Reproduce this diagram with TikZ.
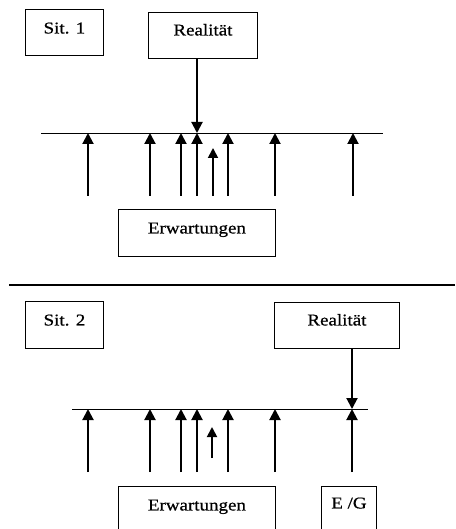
\documentclass[tikz,border=0pt]{standalone}
\usepackage{fontspec}
\setmainfont{Liberation Serif}[FakeStretch=1.15,FakeBold=0.7]
\usetikzlibrary{arrows.meta}
\begin{document}
\begin{tikzpicture}[x=1pt,y=-1pt,
  box/.style={draw, line width=0.9pt, inner sep=0pt, anchor=north west,
    font=\fontsize{16.5}{18}\selectfont},
  arr/.style={line width=2pt, -{Triangle[length=11pt,width=11pt]}},
  sarr/.style={line width=1.8pt, -{Triangle[length=10pt,width=10pt]}},
  base/.style={line width=0.8pt},
  sep/.style={line width=2.6pt}]
\clip (0,0) rectangle (455,529);
% ---------- Situation 1 ----------
\node[box, minimum width=78pt, text height=24pt, text depth=22pt] (s1) at (25,9) {Sit. 1};
\node[box, minimum width=109pt, text height=23pt, text depth=23pt] (r1) at (148,12) {Realität};
\node[box, minimum width=157pt, text height=24pt, text depth=23pt] (e1) at (118,209) {Erwartungen};
\coordinate (l1a) at (41,133);
\coordinate (l1b) at (383,133);
\draw[base] (l1a) -- (l1b);
\coordinate (d1) at (197,133);
\draw[arr] (r1.south -| d1) -- (d1);
\foreach \x [count=\i] in {88,150,181,197,228,275,353}{
  \coordinate (u1b\i) at (\x,196);
  \coordinate (u1t\i) at (\x,133);
  \draw[arr] (u1b\i) -- (u1t\i);
}
\coordinate (k1b) at (213,196);
\coordinate (k1t) at (213,148);
\draw[sarr] (k1b) -- (k1t);
% ---------- separator ----------
\coordinate (sepa) at (9,285);
\coordinate (sepb) at (455,285);
\draw[sep] (sepa) -- (sepb);
% ---------- Situation 2 ----------
\node[box, minimum width=78pt, text height=24pt, text depth=23pt] (s2) at (25,301) {Sit. 2};
\node[box, minimum width=125pt, text height=23pt, text depth=23pt] (r2) at (274,302) {Realität};
\node[box, minimum width=157pt, text height=24pt, text depth=36pt] (e2) at (118,486) {Erwartungen};
\node[box, minimum width=55pt, text height=22pt, text depth=38pt] (eg) at (321,486) {E /G};
\coordinate (l2a) at (72,409);
\coordinate (l2b) at (368,409);
\draw[base] (l2a) -- (l2b);
\coordinate (d2) at (352,409);
\draw[arr] (r2.south -| d2) -- (d2);
\foreach \x [count=\i] in {88,150,181,197,228,275,352}{
  \coordinate (u2b\i) at (\x,472);
  \coordinate (u2t\i) at (\x,409);
  \draw[arr] (u2b\i) -- (u2t\i);
}
\coordinate (k2b) at (212,458);
\coordinate (k2t) at (212,427);
\draw[sarr] (k2b) -- (k2t);
\end{tikzpicture}
\end{document}
